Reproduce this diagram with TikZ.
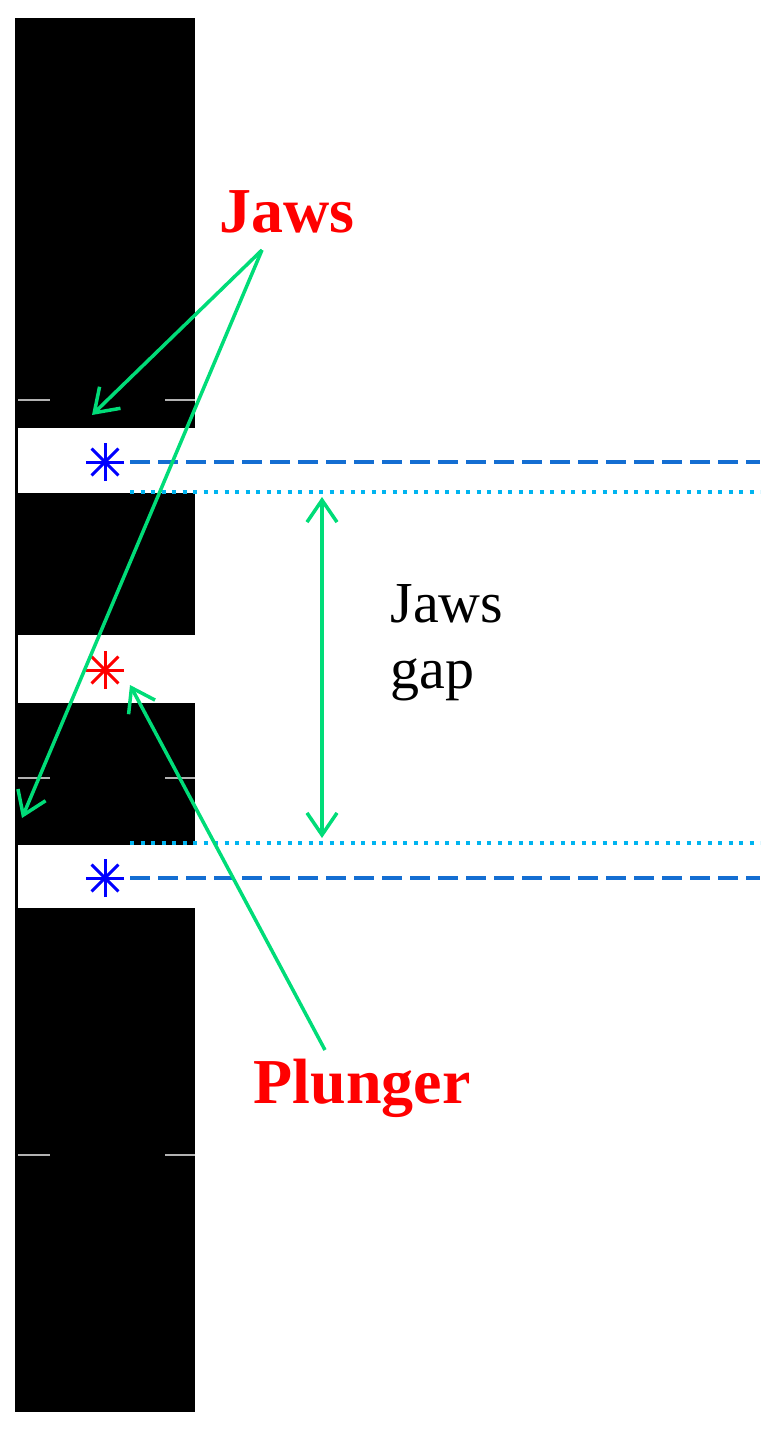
\documentclass[tikz,border=0pt]{standalone}
\usetikzlibrary{arrows.meta}
\usepackage{fontspec}
\setmainfont{Liberation Serif}
\begin{document}
\begin{tikzpicture}[x=1pt,y=-1pt,
 grn/.style={draw={rgb,255:red,0;green,220;blue,120},line width=3.5pt,-{Straight Barb[length=22pt,width=30pt,line width=3.5pt]}},
 lab/.style={text=red,font=\fontsize{64}{64}\selectfont\bfseries},
 star/.style={line width=3pt},
 dsh/.style={draw={rgb,255:red,20;green,110;blue,210},line width=4pt,dash pattern=on 20pt off 8pt},
 dot/.style={draw={rgb,255:red,0;green,180;blue,240},line width=4pt,dash pattern=on 4pt off 6.5pt}]
\useasboundingbox (0,0) rectangle (776,1433);
\fill[black] (15,18) rectangle (195,1412);
\fill[white] (18,428) rectangle (195,493);
\fill[white] (18,635) rectangle (195,703);
\fill[white] (18,845) rectangle (195,908);
\foreach \y in {400,778,1155}{\draw[gray!60,line width=1.5pt] (18,\y)--(50,\y) (165,\y)--(195,\y);}
\draw[dsh] (130,462)--(760,462);
\draw[dot] (130,492)--(760,492);
\draw[dot] (130,843)--(760,843);
\draw[dsh] (130,878)--(760,878);
\foreach \y/\c in {462/blue,670/red,878/blue}{
 \begin{scope}[shift={(105,\y)}]
 \foreach \a in {0,45,90,135}{\draw[\c,star] (\a:19)--(\a+180:19);}
 \end{scope}}
\node[lab] (jaws) at (287,212) {Jaws};
\node[lab] (plunger) at (362,1088) {Plunger};
\node[font=\fontsize{58}{66}\selectfont,align=left] (gap) at (447,643) {Jaws\\gap};
\coordinate (ja) at (262,250);
\coordinate (j1) at (92,415);
\coordinate (j2) at (22,818);
\coordinate (pa) at (325,1050);
\coordinate (p1) at (130,685);
\coordinate (g1) at (322,497);
\coordinate (g2) at (322,838);
\draw[grn] (ja)--(j1);
\draw[grn] (ja)--(j2);
\draw[grn] (pa)--(p1);
\draw[grn,{Straight Barb[length=22pt,width=30pt,line width=3.5pt]}-{Straight Barb[length=22pt,width=30pt,line width=3.5pt]}] (g1)--(g2);
\end{tikzpicture}
\end{document}
